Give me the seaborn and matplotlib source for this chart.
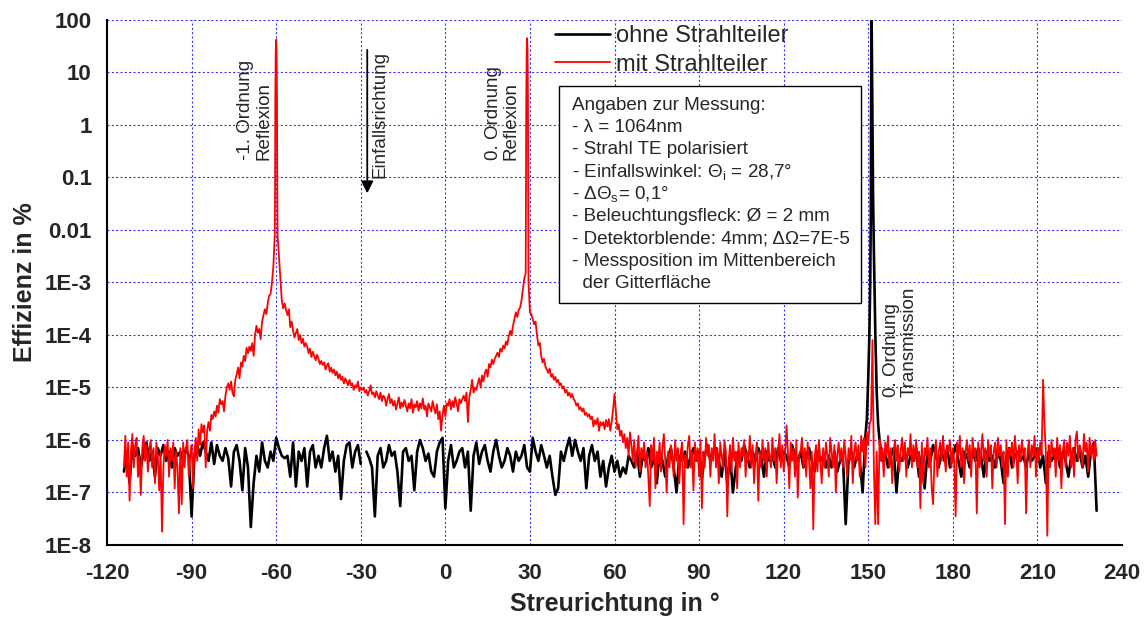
import numpy as np
import pandas as pd
import matplotlib
matplotlib.use("Agg")
import matplotlib.pyplot as plt
from matplotlib.lines import Line2D
from matplotlib.patches import Rectangle
from matplotlib.ticker import FixedLocator, MultipleLocator, LogLocator, NullFormatter
import seaborn as sns

# ---------------------------------------------------------------------------
# Measured scatter efficiency (in %) versus scattering direction (in degrees)
# ---------------------------------------------------------------------------

# Without beam splitter: 1 deg steps from -114 deg to 231 deg
# (NaN where the detector passes through the incident beam)
ohne_start, ohne_step = -114.0, 1.0
ohne_eff = [
    2.5e-7, 6e-7, 1.5e-7, 8e-7, 5e-7, 7e-7, 3e-7, 6e-7, 9e-7, 4e-7,
    6e-7, 2e-7, 7e-7, 5e-7, 8e-7, 4e-7, 6e-7, 3e-7, 7e-7, 5e-7,
    6e-7, 4e-7, 7e-7, 5e-7, 3.5e-8, 5e-7, 8e-7, 5e-7, 9e-7, 6e-7,
    4e-7, 9e-7, 3.5e-7, 8e-7, 5e-7, 4e-7, 7e-7, 4.5e-7, 1.3e-7, 6e-7,
    8e-7, 4e-7, 1.1e-7, 7e-7, 3e-7, 2.2e-8, 1.5e-7, 5e-7, 2.5e-7, 9e-7,
    4e-7, 3e-7, 6e-7, 4e-7, 1.1e-6, 7e-7, 5e-7, 4.5e-7, 5e-7, 2e-7,
    9e-7, 1.3e-7, 6e-7, 4e-7, 7e-7, 1.3e-7, 6e-7, 8e-7, 3e-7, 5e-7,
    3e-7, 7e-7, 1.2e-6, 4e-7, 6e-7, 2.5e-7, 5e-7, 7.5e-8, 4e-7, 8e-7,
    9e-7, 3e-7, 6e-7, 8e-7, 3.5e-7, np.nan, 6e-7, 4.5e-7, 3e-7, 3.5e-8,
    5e-7, 7e-7, 3e-7, 4e-7, 8e-7, 5e-7, 6e-7, 2.5e-7, 5.5e-8, 6e-7,
    7e-7, 4e-7, 5e-7, 1.1e-7, 6e-7, 1e-6, 7e-7, 4e-7, 5.5e-7, 2.5e-7,
    2e-7, 6e-7, 9e-7, 1.1e-6, 5e-8, 4e-7, 8e-7, 3e-7, 4e-7, 6e-7,
    7e-7, 3e-7, 6e-7, 4.5e-8, 5e-7, 9e-7, 3.5e-7, 6e-7, 8e-7, 4e-7,
    2.5e-7, 6e-7, 1e-6, 5e-7, 3e-7, 4e-7, 7e-7, 5e-7, 2.5e-7, 6e-7,
    4e-7, 5e-7, 8e-7, 3e-7, 2.5e-7, 1.1e-6, 6e-7, 4e-7, 8e-7, 5e-7,
    3e-7, 5e-7, 2e-7, 9e-8, 1.2e-7, 6e-7, 4e-7, 7e-7, 1.1e-6, 5e-7,
    1e-6, 6e-7, 4e-7, 7e-7, 1.2e-7, 5e-7, 8e-7, 4e-7, 6e-7, 2e-7,
    4e-7, 1.3e-7, 3e-7, 5e-7, 2.5e-7, 4e-7, 2e-7, 3e-7, 2.3e-7, 5e-7,
    4e-7, 3e-7, 6e-7, 2e-7, 5e-7, 4e-7, 7e-7, 3e-7, 5e-7, 1.5e-7,
    6e-7, 4e-7, 2e-7, 5e-7, 7e-7, 3e-7, 1e-7, 5e-7, 4e-7, 6e-7,
    3e-7, 5e-7, 7e-7, 4e-7, 6e-7, 1.8e-7, 5e-7, 8e-7, 4e-7, 6e-7,
    7e-7, 4e-7, 2e-7, 6e-7, 1.5e-7, 5e-7, 1e-7, 3e-7, 6e-7, 4e-7,
    8e-7, 5e-7, 3e-7, 6e-7, 4e-7, 7e-7, 5e-7, 2e-7, 6e-7, 4e-7,
    5e-7, 3e-7, 7e-7, 4e-7, 6e-7, 5e-7, 3e-7, 8e-7, 5e-7, 4e-7,
    6e-7, 3e-7, 5e-7, 7e-7, 4e-7, 2.5e-7, 6e-7, 4e-7, 5e-7, 3e-7,
    5e-7, 3e-7, 6e-7, 2.5e-7, 4e-7, 5e-7, 2.5e-8, 4e-7, 6e-7, 3e-7,
    5e-7, 4e-7, 1e-7, 1.2e-6, 1.5e-5, 2.0, 4e-3, 8e-6, 1e-6, 4e-7,
    6e-7, 3e-7, 5e-7, 7e-7, 1e-7, 5e-7, 4e-7, 6e-7, 3e-7, 5e-7,
    4e-7, 7e-7, 2e-7, 5e-7, 1.2e-7, 6e-7, 4e-7, 8e-7, 5e-7, 3e-7,
    6e-7, 4e-7, 7e-7, 3e-7, 5e-7, 8e-7, 4e-7, 2e-7, 6e-7, 5e-7,
    3e-7, 6e-7, 4e-7, 7e-7, 5e-7, 2e-7, 6e-7, 4e-7, 5e-7, 3e-7,
    6e-7, 4e-7, 1.5e-7, 5e-7, 7e-7, 3e-7, 5e-7, 6e-7, 4e-7, 5e-7,
    3e-7, 6e-7, 4e-7, 5e-7, 7e-7, 3e-7, 5e-7, 1.5e-7, 6e-7, 4e-7,
    5e-7, 7e-7, 3e-7, 6e-7, 4e-7, 2e-7, 5e-7, 7e-7, 4e-7, 6e-7,
    3e-7, 5e-7, 2e-7, 6e-7, 9e-7, 4.5e-8,
]
# finer samples across the 0th order transmission peak
ohne_peak_angle = [149.5, 150.4, 150.7, 150.9, 151.2, 151.5, 151.7, 152.5, 153.5]
ohne_peak_eff = [2.5e-6, 1e-4, 1e-3, 2e-2, 100.0, 1.0, 5e-2, 1.1e-4, 2e-6]

# With beam splitter: 0.5 deg steps from -114 deg to 231 deg
mit_start, mit_step = -114.0, 0.5
mit_eff_left = [  # -114 ... -89.5 deg
    3e-7, 1.2e-6, 2e-7, 9e-7, 7e-8, 6e-7, 1.3e-6, 3e-7, 8e-7, 1.1e-6,
    2e-7, 5e-7, 9e-8, 7e-7, 1.2e-6, 4e-7, 8e-7, 2.5e-7, 6e-7, 1e-6,
    3e-7, 7e-7, 1.5e-7, 9e-7, 5e-7, 1.1e-7, 6e-7, 1.8e-8, 3e-7, 8e-7,
    5e-7, 1e-6, 2e-7, 7e-7, 4e-7, 9e-7, 1.2e-7, 6e-7, 3e-7, 4e-8,
    7e-7, 6e-8, 9e-7, 3e-7, 7e-7, 1e-6, 2e-7, 5e-7, 8e-7, 1.2e-7,
]
mit_eff_orders = [  # -89 ... 65.5 deg (-1st and 0th order reflection)
    6e-7, 1.1e-6, 4e-7, 1.6e-6, 8e-7, 2e-6, 1.4e-6, 1.9e-6, 3e-7, 1.5e-6,
    2.2e-6, 1.5e-6, 3e-6, 2.5e-6, 3.5e-6, 2.8e-6, 4.5e-6, 3.3e-6, 6e-6, 4.8e-6,
    5.5e-6, 3.5e-6, 7e-6, 1e-5, 1.2e-5, 9e-6, 1.3e-5, 8e-6, 6.8e-6, 1.4e-5,
    1.8e-5, 2.4e-5, 1.5e-5, 3e-5, 2.5e-5, 4e-5, 3.2e-5, 5.7e-5, 4.5e-5, 6e-5,
    5e-5, 7e-5, 4e-5, 1e-4, 1.5e-4, 1.1e-4, 1.3e-4, 8.3e-5, 1.8e-4, 2.4e-4,
    3.1e-4, 2.5e-4, 4e-4, 5.6e-4, 6e-4, 1e-3, 2e-3, 8e-3, 42.0, 8e-3,
    3e-3, 1.2e-3, 4.5e-4, 3.2e-4, 4e-4, 3e-4, 2.4e-4, 3.1e-4, 1.4e-4, 1.8e-4,
    1.2e-4, 9e-5, 1.1e-4, 1.3e-4, 8e-5, 1e-4, 7e-5, 8.5e-5, 6e-5, 7e-5,
    6e-5, 4.5e-5, 5.5e-5, 3.8e-5, 4.8e-5, 4e-5, 3.3e-5, 4.2e-5, 3.5e-5, 2.8e-5,
    3.2e-5, 2.7e-5, 3e-5, 2.2e-5, 2.6e-5, 2.9e-5, 2e-5, 2.4e-5, 1.9e-5, 2.2e-5,
    1.7e-5, 2e-5, 1.5e-5, 1.8e-5, 1.4e-5, 1.6e-5, 1.2e-5, 1.5e-5, 1.3e-5, 1.1e-5,
    1.4e-5, 1.1e-5, 1.2e-5, 9e-6, 1.1e-5, 1e-5, 1.3e-5, 8.5e-6, 1e-5, 9e-6,
    1e-5, 8e-6, 9e-6, 7e-6, 8.5e-6, 1.1e-5, 7.5e-6, 8e-6, 6.5e-6, 8.5e-6,
    7e-6, 6e-6, 8e-6, 5.5e-6, 7e-6, 6.5e-6, 4.5e-6, 6e-6, 7.5e-6, 5e-6,
    6e-6, 4.5e-6, 5.5e-6, 3.8e-6, 5e-6, 6.5e-6, 4e-6, 5.2e-6, 4.3e-6, 5.8e-6,
    4.5e-6, 3.5e-6, 5e-6, 4e-6, 6e-6, 3.3e-6, 4.8e-6, 4.2e-6, 5.5e-6, 3.6e-6,
    5e-6, 4e-6, 6.2e-6, 3.8e-6, 4.5e-6, 2.8e-6, 5e-6, 4.2e-6, 3.5e-6, 5.5e-6,
    4e-6, 3.2e-6, 4.8e-6, 2.5e-6, 3.5e-6, 1.5e-6, 3e-6, 4.5e-6, 2.8e-6, 5e-6,
    4.5e-6, 6e-6, 3.8e-6, 5.5e-6, 4.2e-6, 6.5e-6, 5e-6, 3.5e-6, 6e-6, 5e-6,
    6e-6, 7e-6, 5.5e-6, 8e-6, 2.2e-6, 6.5e-6, 9e-6, 1.4e-5, 8e-6, 1e-5,
    9e-6, 1.2e-5, 1.5e-5, 1e-5, 1.7e-5, 1.3e-5, 1.9e-5, 2.2e-5, 1.6e-5, 2.8e-5,
    2.4e-5, 3.4e-5, 2.8e-5, 3.5e-5, 4e-5, 4.6e-5, 3.8e-5, 5.5e-5, 4.8e-5, 6.3e-5,
    5.5e-5, 7.5e-5, 6.5e-5, 9.6e-5, 1.2e-4, 1e-4, 1.5e-4, 2e-4, 2.7e-4, 2.2e-4,
    3e-4, 3.3e-4, 4.5e-4, 7.4e-4, 1.2e-3, 1.5e-3, 45.0, 1e-3, 2.7e-4, 2.5e-4,
    2e-4, 1.6e-4, 1.8e-4, 1e-4, 6.3e-5, 7e-5, 4e-5, 3e-5, 3.5e-5, 2.5e-5,
    2.2e-5, 1.9e-5, 2.3e-5, 1.6e-5, 1.8e-5, 1.4e-5, 1.6e-5, 1.26e-5, 1.4e-5, 1.1e-5,
    1.2e-5, 9.5e-6, 1.05e-5, 8e-6, 9e-6, 7e-6, 8e-6, 6.5e-6, 7.5e-6, 6e-6,
    5.5e-6, 4.5e-6, 5e-6, 3.8e-6, 4.2e-6, 3.5e-6, 4e-6, 3e-6, 3.3e-6, 2.8e-6,
    3.1e-6, 2.5e-6, 2.8e-6, 1.8e-6, 2.4e-6, 2e-6, 2.6e-6, 1.5e-6, 2.2e-6, 1.9e-6,
    2.2e-6, 1.6e-6, 2.4e-6, 1.8e-6, 2.5e-6, 1.5e-6, 2.2e-6, 3.8e-6, 7.5e-6, 3.5e-6,
    1.6e-6, 2e-6, 1.2e-6, 1.5e-6, 9e-7, 1.3e-6, 7e-7, 1.1e-6, 5e-7, 1.4e-6,
]
mit_eff_right = [  # 66 ... 231 deg
    8e-7, 4e-7, 1e-6, 3e-7, 6e-7, 1.2e-6, 2.5e-7, 7e-7, 4.5e-7, 9e-7,
    3e-7, 6e-7, 2e-7, 5.5e-8, 8e-7, 4e-7, 1.1e-6, 1.2e-7, 6e-7, 3.5e-7,
    9e-7, 2.5e-7, 7e-7, 1.3e-6, 4e-7, 1e-7, 6e-7, 3e-7, 8e-7, 5e-7,
    2e-7, 1e-6, 4e-7, 7e-7, 1.5e-7, 6e-7, 9e-7, 2.5e-8, 5e-7, 3e-7,
    8e-7, 1.2e-6, 3e-7, 6e-7, 1.1e-7, 9e-7, 4e-7, 7e-7, 2e-7, 1e-6,
    5e-8, 6e-7, 3e-7, 1.1e-6, 5e-7, 8e-7, 2e-7, 7e-7, 4e-7, 1.3e-6,
    3e-7, 7e-7, 1.5e-7, 9e-7, 5e-7, 3e-7, 1e-6, 6e-7, 3.5e-8, 4e-7,
    8e-7, 2.5e-7, 1.1e-6, 4e-7, 6e-7, 1.2e-7, 9e-7, 3e-7, 7e-7, 5e-7,
    1e-6, 2e-7, 6e-7, 4e-7, 1.2e-6, 3e-7, 8e-7, 1.5e-7, 5e-7, 9e-7,
    7e-8, 6e-7, 3e-7, 1e-6, 4e-7, 7e-7, 2e-7, 9e-7, 5e-7, 3e-7,
    1.1e-6, 4e-7, 7e-7, 1.5e-7, 6e-7, 1.3e-6, 3e-7, 8e-7, 2.5e-7, 5e-7,
    1.9e-6, 6e-7, 1.2e-7, 9e-7, 4e-7, 7e-7, 2e-7, 1e-6, 8e-8, 5e-7,
    6e-7, 1.1e-6, 3e-7, 7e-7, 2e-7, 9e-7, 4e-7, 1.2e-7, 6e-7, 2e-8,
    5e-7, 8e-7, 2.5e-7, 1e-6, 4e-7, 1.5e-7, 7e-7, 3e-7, 9e-7, 5e-7,
    2e-7, 1.1e-6, 6e-7, 3e-7, 8e-7, 1e-7, 5e-7, 9e-7, 4e-7, 7e-7,
    3e-7, 1e-6, 5e-7, 2e-7, 7e-7, 4e-7, 1.2e-6, 1.5e-7, 6e-7, 9e-7,
    4e-7, 8e-7, 2e-7, 1.2e-6, 6e-7, 1.1e-6, 3e-7, 1.4e-6, 8e-7, 2e-6,
    2.5e-6, 8e-5, 3e-7, 2.5e-8, 6e-7, 2.5e-8, 1e-6, 4e-7, 7e-7, 2e-7,
    9e-7, 5e-7, 1.2e-6, 3e-7, 7e-7, 1.5e-7, 6e-7, 1e-6, 4e-7, 8e-7,
    2.5e-7, 6e-7, 1.1e-6, 4e-7, 9e-7, 2e-7, 7e-7, 5e-7, 1.3e-6, 3e-7,
    8e-7, 4e-7, 1e-6, 3e-7, 6e-7, 5e-8, 9e-7, 1.5e-7, 7e-7, 5e-7,
    1.1e-6, 3e-7, 7e-7, 1.2e-7, 6e-8, 5e-7, 1e-6, 2e-7, 6e-7, 9e-7,
    4e-7, 1.2e-6, 5e-7, 2.5e-7, 8e-7, 6e-7, 1e-6, 3e-7, 7e-7, 4e-7,
    3.5e-8, 9e-7, 5e-7, 1.2e-6, 3e-7, 7e-7, 1.5e-7, 6e-7, 1e-6, 4e-7,
    8e-7, 2e-7, 1.1e-6, 5e-7, 7e-7, 4e-8, 9e-7, 3e-7, 6e-7, 1.3e-6,
    4e-7, 7e-7, 2e-7, 1e-6, 5e-7, 8e-7, 1.2e-7, 6e-7, 9e-7, 3e-7,
    1.1e-6, 5e-7, 8e-7, 3e-7, 6e-7, 2.5e-8, 1e-6, 2e-7, 7e-7, 5e-7,
    9e-7, 3e-7, 1.2e-6, 6e-7, 1.5e-7, 8e-7, 4e-7, 1e-6, 5e-7, 7e-7,
    4e-8, 6e-7, 1e-6, 3e-7, 8e-7, 5e-7, 1.2e-6, 2e-7, 7e-7, 4e-7,
    9e-7, 5e-7, 1.4e-5, 2e-6, 6e-7, 1.5e-8, 8e-7, 3e-7, 1e-6, 5e-7,
    7e-7, 2e-7, 1.1e-6, 4e-7, 8e-7, 1.2e-7, 6e-7, 1e-6, 3e-7, 9e-7,
    5e-7, 1.2e-6, 3e-7, 7e-7, 2e-7, 1e-6, 1.45e-6, 4e-7, 8e-7, 6e-7,
    3e-7, 1.3e-6, 6e-7, 9e-7, 2.5e-7, 1.1e-6, 5e-7, 8e-7, 4e-7, 1e-6,
    5e-7,
]
# finer samples across the two reflection peaks
mit_peak_angle = [-60.4, -60.3, -60.15, -59.85, -59.7, -59.6,
                  28.6, 28.7, 28.85, 29.15, 29.3, 29.4]
mit_peak_eff = [0.05, 3.0, 25.0, 25.0, 3.0, 0.05,
                0.05, 3.0, 25.0, 25.0, 3.0, 0.05]

legend_labels = ["ohne Strahlteiler", "mit Strahlteiler"]
x_ticks = [-120, -90, -60, -30, 0, 30, 60, 90, 120, 150, 180, 210, 240]
y_ticks = [1e-8, 1e-7, 1e-6, 1e-5, 1e-4, 1e-3, 1e-2, 1e-1, 1, 10, 100]
y_tick_labels = ["1E-8", "1E-7", "1E-6", "1E-5", "1E-4", "1E-3",
                 "0.01", "0.1", "1", "10", "100"]
info_lines = [
    "Angaben zur Messung:",
    "- λ = 1064nm",
    "- Strahl TE polarisiert",
    r"- Einfallswinkel: Θ$_\mathregular{i}$ = 28,7°",
    r"- ΔΘ$_\mathregular{s}$= 0,1°",
    "- Beleuchtungsfleck: Ø = 2 mm",
    "- Detektorblende: 4mm; ΔΩ=7E-5",
    "- Messposition im Mittenbereich",
    "  der Gitterfläche",
]

# ---------------------------------------------------------------------------
# Assemble tidy tables
# ---------------------------------------------------------------------------
ohne_angle = ohne_start + ohne_step * np.arange(len(ohne_eff))
ohne_df = pd.DataFrame({"angle": np.r_[ohne_angle, ohne_peak_angle],
                        "eff": np.r_[ohne_eff, ohne_peak_eff]})
ohne_df = ohne_df.sort_values("angle").reset_index(drop=True)
# split into separate segments at missing readings
ohne_df["segment"] = ohne_df["eff"].isna().cumsum()
ohne_df = ohne_df.dropna()

mit_eff = mit_eff_left + mit_eff_orders + mit_eff_right
mit_angle = mit_start + mit_step * np.arange(len(mit_eff))
mit_df = pd.DataFrame({"angle": np.r_[mit_angle, mit_peak_angle],
                       "eff": np.r_[mit_eff, mit_peak_eff]})
mit_df = mit_df.sort_values("angle").reset_index(drop=True)

# ---------------------------------------------------------------------------
# Figure
# ---------------------------------------------------------------------------
sns.set_style("white")
plt.rcParams["font.family"] = ["Liberation Sans", "DejaVu Sans"]
plt.rcParams["mathtext.default"] = "regular"

fig = plt.figure(figsize=(11.47, 6.17), dpi=100)
ax = fig.add_axes([0.0933, 0.1167, 0.9782 - 0.0933, 0.9676 - 0.1167])
ax.set_yscale("log")

sns.lineplot(data=ohne_df, x="angle", y="eff", units="segment", estimator=None,
             color="black", lw=1.9, ax=ax, legend=False)
sns.lineplot(data=mit_df, x="angle", y="eff", estimator=None,
             color="#ff0000", lw=1.3, ax=ax, legend=False)

ax.set_xlim(-120, 240)
ax.set_ylim(1e-8, 100)

# ticks
ax.xaxis.set_major_locator(FixedLocator(x_ticks))
ax.set_xticklabels([str(t) for t in x_ticks])
ax.xaxis.set_minor_locator(MultipleLocator(15))
ax.yaxis.set_major_locator(FixedLocator(y_ticks))
ax.set_yticklabels(y_tick_labels)
ax.yaxis.set_minor_locator(LogLocator(base=10, subs=np.arange(2, 10), numticks=30))
ax.yaxis.set_minor_formatter(NullFormatter())
ax.tick_params(axis="both", which="major", direction="out", length=6, width=1.2,
               labelsize=16, color="black")
ax.tick_params(axis="both", which="minor", direction="out", length=3.5, width=1.0,
               color="black")
ax.tick_params(axis="x", which="major", pad=7)
ax.tick_params(axis="y", which="major", pad=5)
for lab in ax.get_xticklabels() + ax.get_yticklabels():
    lab.set_fontweight("bold")

for side in ("top", "right"):
    ax.spines[side].set_visible(False)
for side in ("left", "bottom"):
    ax.spines[side].set_color("black")
    ax.spines[side].set_linewidth(1.5)

ax.grid(True, which="major", color="#2a2aff", linestyle=(0, (1.8, 2.1)),
        linewidth=0.8)
ax.set_axisbelow(True)
# no vertical grid line on the axis ends
xgrid = ax.xaxis.get_gridlines()
xgrid[0].set_visible(False)
xgrid[-1].set_visible(False)

ax.set_xlabel("Streurichtung in °", fontsize=18, fontweight="bold", labelpad=5.5)
ax.set_ylabel("Effizienz in %", fontsize=18, fontweight="bold", labelpad=5.5)

# legend
handles = [Line2D([], [], color="black", lw=1.9),
           Line2D([], [], color="#ff0000", lw=1.3)]
ax.legend(handles, legend_labels, loc="upper left", bbox_to_anchor=(0.441, 0.9905),
          bbox_transform=ax.transAxes, frameon=False, fontsize=17,
          handlelength=2.35, handletextpad=0.25, labelspacing=0.285,
          borderpad=0, borderaxespad=0)

# measurement info box, one baseline per line for an even line pitch
ax.add_patch(Rectangle((0.4456, 0.4604), 0.2970, 0.4139, transform=ax.transAxes,
                       facecolor="white", edgecolor="black", lw=1.0, zorder=5))
info_x, info_top, info_pitch = 0.4581, 0.8295, 0.0426
for i, line in enumerate(info_lines):
    ax.text(info_x, info_top - i * info_pitch, line, transform=ax.transAxes,
            ha="left", va="baseline", fontsize=13.6, zorder=6)

# peak annotations
ann_kw = dict(rotation=90, ha="center", va="bottom", multialignment="left",
              fontsize=13.5, linespacing=1.05)
ax.text(-67.6, 0.215, "-1. Ordnung\nReflexion", **ann_kw)
ax.text(20.2, 0.215, "0. Ordnung\nReflexion", **ann_kw)
ax.text(161.3, 6.7e-6, "0. Ordnung\nTransmission", **ann_kw)
ax.text(-23.0, 0.098, "Einfallsrichtung", **ann_kw)
ax.annotate("", xy=(-27.7, 0.05), xytext=(-27.7, 27),
            arrowprops=dict(arrowstyle="-|>", color="black", lw=1.3,
                            mutation_scale=18, shrinkA=0, shrinkB=0))

fig.savefig("out.png", dpi=100)
